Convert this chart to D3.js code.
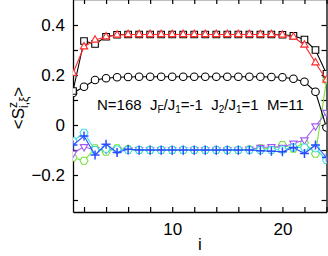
<!DOCTYPE html>
<html lang="en">
<head>
<meta charset="utf-8">
<title>Sz profile</title>
<script src="https://d3js.org/d3.v7.min.js"></script>
<style>
  body { margin: 0; background: #fff; }
  text { font-family: "Liberation Sans", Arial, sans-serif; white-space: pre; }
</style>
</head>
<body>
<script>
// site index i = 1..24
var sites = d3.range(1, 25);

// upper group
var squares   = [0.136, 0.336, 0.324, 0.353, 0.361, 0.362, 0.362, 0.362, 0.362, 0.362, 0.362, 0.362,
                 0.362, 0.362, 0.362, 0.362, 0.362, 0.362, 0.362, 0.361, 0.357, 0.342, 0.300, 0.205];
var triangles = [0.207, 0.313, 0.340, 0.353, 0.360, 0.362, 0.362, 0.362, 0.362, 0.362, 0.362, 0.362,
                 0.362, 0.362, 0.362, 0.362, 0.362, 0.362, 0.362, 0.360, 0.352, 0.320, 0.249, 0.180];
var circles   = [0.128, 0.153, 0.180, 0.187, 0.191, 0.192, 0.193, 0.193, 0.193, 0.193, 0.193, 0.193,
                 0.193, 0.193, 0.193, 0.193, 0.193, 0.193, 0.192, 0.191, 0.185, 0.173, 0.133, -0.010];
// lower group
var greenHex  = [-0.130, -0.143, -0.093, -0.107, -0.093, -0.097, -0.100, -0.100, -0.100, -0.100, -0.100, -0.100,
                 -0.100, -0.100, -0.100, -0.100, -0.098, -0.093, -0.093, -0.080, -0.095, -0.071, -0.115, 0.180];
var purpleTri = [-0.113, -0.087, -0.100, -0.097, -0.100, -0.100, -0.100, -0.100, -0.100, -0.100, -0.100, -0.100,
                 -0.100, -0.100, -0.100, -0.100, -0.097, -0.090, -0.087, -0.090, -0.073, -0.060, -0.004, 0.050];
var cyanHex   = [-0.065, -0.031, -0.100, -0.095, -0.098, -0.100, -0.100, -0.100, -0.100, -0.100, -0.100, -0.100,
                 -0.100, -0.100, -0.100, -0.100, -0.100, -0.100, -0.100, -0.098, -0.090, -0.090, -0.093, -0.140];
var bluePlus  = [-0.080, -0.044, -0.120, -0.077, -0.110, -0.097, -0.100, -0.100, -0.100, -0.100, -0.100, -0.100,
                 -0.100, -0.100, -0.100, -0.100, -0.100, -0.103, -0.105, -0.107, -0.090, -0.114, -0.080, -0.130];

var yTicks = [-0.3, -0.2, -0.1, 0, 0.1, 0.2, 0.3, 0.4];
var xTicks = [2, 4, 6, 8, 10, 12, 14, 16, 18, 20, 22, 24];

var W = 328, H = 256;
var mLeft = 73, mRight = 326.5, mTop = -1, mBottom = 212;

var svg = d3.select("body").append("svg")
    .attr("width", W).attr("height", H);

var x = d3.scaleLinear().domain([1, 24]).range([mLeft, mRight]);
var y = d3.scaleLinear().domain([-0.348, 0.504]).range([mBottom, mTop]);

svg.append("clipPath").attr("id", "plot")
  .append("rect").attr("x", mLeft).attr("y", mTop)
  .attr("width", mRight - mLeft).attr("height", mBottom - mTop);

function yLabel(d) {
  var k = Math.round(d * 10);
  if (k % 2 !== 0) return "";
  return k === 0 ? "0" : d3.format(".1f")(d);
}
function xLabel(d) { return d % 10 === 0 ? d : ""; }

function styleAxis(g) {
  g.selectAll("path").attr("stroke", "#000").attr("stroke-width", 1.3);
  g.selectAll("line").attr("stroke", "#000").attr("stroke-width", 1.2);
  g.selectAll("text").attr("font-family", "Liberation Sans, Arial, sans-serif")
    .attr("font-size", 17).attr("fill", "#000");
}

svg.append("g").attr("transform", "translate(" + mLeft + ",0)")
  .call(d3.axisLeft(y).tickValues(yTicks).tickFormat(yLabel).tickSizeInner(-5).tickSizeOuter(0).tickPadding(8))
  .call(styleAxis);
svg.append("g").attr("transform", "translate(" + mRight + ",0)")
  .call(d3.axisRight(y).tickValues(yTicks).tickFormat("").tickSizeInner(-5).tickSizeOuter(0))
  .call(styleAxis);
svg.append("g").attr("transform", "translate(0," + mBottom + ")")
  .call(d3.axisBottom(x).tickValues(xTicks).tickFormat(xLabel).tickSizeInner(-5).tickSizeOuter(0).tickPadding(11))
  .call(styleAxis);
svg.append("g").attr("transform", "translate(0," + mTop + ")")
  .call(d3.axisTop(x).tickValues(xTicks).tickFormat("").tickSizeInner(-5).tickSizeOuter(0))
  .call(styleAxis);

// marker shapes (open)
function polygon(n, r, rot) {
  var pts = [];
  for (var k = 0; k < n; k++) {
    var a = rot + k * 2 * Math.PI / n;
    pts.push([r * Math.cos(a), r * Math.sin(a)]);
  }
  return "M" + pts.map(function(p) { return p[0].toFixed(2) + "," + p[1].toFixed(2); }).join("L") + "Z";
}
var shapes = {
  square: "M-3.3,-3.3H3.3V3.3H-3.3Z",
  circle: "M3.8,0A3.8,3.8 0 1,1 -3.8,0A3.8,3.8 0 1,1 3.8,0Z",
  triUp: polygon(3, 4.3, -Math.PI / 2),
  triDown: polygon(3, 4.3, Math.PI / 2),
  hex: polygon(6, 4.0, 0),
  plus: "M-4.5,0H4.5M0,-4.5V4.5"
};

var series = [
  {vals: greenHex,  color: "#77e23a", shape: "hex"},
  {vals: purpleTri, color: "#a25cf5", shape: "triDown"},
  {vals: cyanHex,   color: "#38dede", shape: "hex"},
  {vals: bluePlus,  color: "#2a4dff", shape: "plus"},
  {vals: circles,   color: "#000000", shape: "circle"},
  {vals: squares,   color: "#000000", shape: "square"},
  {vals: triangles, color: "#ff2a2a", shape: "triUp"}
];

var line = d3.line().x(function(d) { return x(d[0]); }).y(function(d) { return y(d[1]); });
var plot = svg.append("g").attr("clip-path", "url(#plot)");

series.forEach(function(s) {
  var pts = sites.map(function(i, k) { return [i, s.vals[k]]; });
  var g = plot.append("g");
  g.append("path").datum(pts).attr("d", line)
    .attr("fill", "none").attr("stroke", s.color).attr("stroke-width", 1.1);
  g.selectAll("path.m").data(pts).enter().append("path")
    .attr("class", "m")
    .attr("transform", function(d) { return "translate(" + x(d[0]) + "," + y(d[1]) + ")"; })
    .attr("d", shapes[s.shape])
    .attr("fill", s.shape === "plus" ? "none" : "#fff")
    .attr("stroke", s.color).attr("stroke-width", s.shape === "plus" ? 1.5 : 1.1);
});

// annotation
var note = svg.append("text").attr("x", 97).attr("y", 110)
  .attr("font-size", 15).attr("fill", "#000");
var parts = [["N=168  J", 0], ["F", 1], ["/J", 0], ["1", 1], ["=-1  J", 0], ["2", 1], ["/J", 0], ["1", 1], ["=1  M=11", 0]];
parts.forEach(function(p, k) {
  var t = note.append("tspan").text(p[0]);
  if (p[1]) t.attr("font-size", 10).attr("dy", 3);
  else if (k > 0) t.attr("dy", -3);
});

// axis titles
svg.append("text").attr("x", 200).attr("y", 250)
  .attr("text-anchor", "middle").attr("font-size", 17).text("i");

var yl = svg.append("text")
  .attr("transform", "translate(24,108) rotate(-90)")
  .attr("text-anchor", "middle").attr("font-size", 17);
yl.append("tspan").text("<S");
yl.append("tspan").attr("font-size", 12).attr("dy", -7).text("z");
yl.append("tspan").attr("font-size", 12).attr("dx", -6).attr("dy", 11).text("i,ξ");
yl.append("tspan").attr("dy", -4).text(">");
</script>
</body>
</html>
